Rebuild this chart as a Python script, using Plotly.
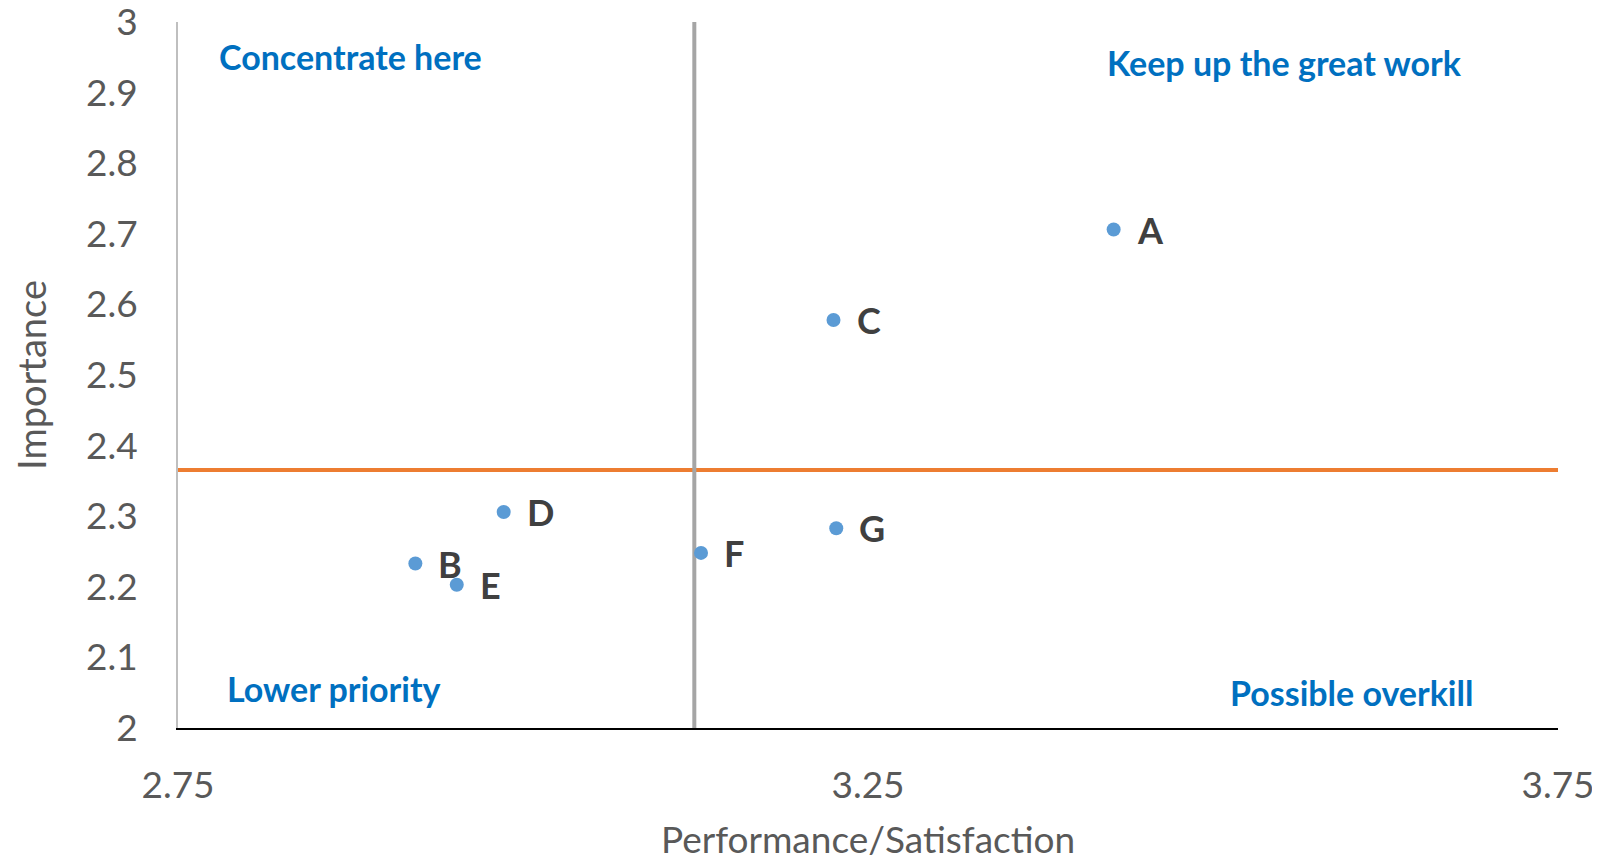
import plotly.graph_objects as go

# ---- data ----
labels = ["A", "B", "C", "D", "E", "F", "G"]
performance = [3.428, 2.922, 3.225, 2.986, 2.952, 3.129, 3.227]
importance = [2.706, 2.233, 2.578, 2.306, 2.203, 2.248, 2.283]

x_tickvals = [2.75, 3.25, 3.75]
x_ticktext = ["2.75", "3.25", "3.75"]
y_tickvals = [2.0, 2.1, 2.2, 2.3, 2.4, 2.5, 2.6, 2.7, 2.8, 2.9, 3.0]
y_ticktext = ["2", "2.1", "2.2", "2.3", "2.4", "2.5", "2.6", "2.7", "2.8", "2.9", "3"]

quadrant_labels = ["Concentrate here", "Keep up the great work", "Lower priority", "Possible overkill"]

x_range = [2.75, 3.75]
y_range = [2.0, 3.0]

mean_perf = sum(performance) / len(performance)
mean_imp = sum(importance) / len(importance)

FONT = "Lato"

fig = go.Figure()

# horizontal mean line (orange)
fig.add_trace(go.Scatter(
    x=x_range, y=[mean_imp, mean_imp], mode="lines",
    line=dict(color="#ED7D31", width=4), hoverinfo="skip", showlegend=False))

# vertical mean line (grey)
fig.add_trace(go.Scatter(
    x=[mean_perf, mean_perf], y=y_range, mode="lines",
    line=dict(color="#A5A5A5", width=4), hoverinfo="skip", showlegend=False))

# points
fig.add_trace(go.Scatter(
    x=performance, y=importance, mode="markers",
    marker=dict(size=14, color="#5B9BD5"), showlegend=False))

annotations = []
for lab, px, py in zip(labels, performance, importance):
    annotations.append(dict(
        x=px, y=py, xref="x", yref="y", text=lab, showarrow=False,
        xanchor="left", yanchor="middle", xshift=21,
        font=dict(family=FONT, size=36, color="#404040", weight="bold")))

quad_pos = [(0.0283, 0.951), (0.6717, 0.942), (0.0337, 0.056), (0.7606, 0.050)]
for txt, (qx, qy) in zip(quadrant_labels, quad_pos):
    annotations.append(dict(
        x=qx, y=qy, xref="paper", yref="paper", text=txt, showarrow=False,
        xanchor="left", yanchor="middle",
        font=dict(family=FONT, size=34, color="#0070C0", weight="bold")))

fig.update_layout(
    width=1600, height=862,
    margin=dict(l=170, r=50, t=14, b=142),
    paper_bgcolor="white", plot_bgcolor="white",
    annotations=annotations,
    font=dict(family=FONT, color="#595959"),
    xaxis=dict(
        range=x_range, tickvals=x_tickvals, ticktext=x_ticktext, automargin=False,
        showgrid=False, zeroline=False, showline=True, linecolor="black", linewidth=2,
        ticks="", tickfont=dict(family=FONT, size=37, color="#595959"),
        ticklabelstandoff=24, ticklabeloverflow="allow",
        title=dict(text="Performance/Satisfaction", font=dict(family=FONT, size=37, color="#595959"), standoff=22),
    ),
    yaxis=dict(
        range=y_range, tickvals=y_tickvals, ticktext=y_ticktext, automargin=False,
        showgrid=False, zeroline=False, showline=True, linecolor="#BFBFBF", linewidth=2,
        ticks="", tickfont=dict(family=FONT, size=37, color="#595959"),
        ticklabelstandoff=31, ticklabeloverflow="allow",
        title=dict(text="Importance", font=dict(family=FONT, size=38, color="#595959"), standoff=30),
    ),
)

fig.write_html("out.html")
